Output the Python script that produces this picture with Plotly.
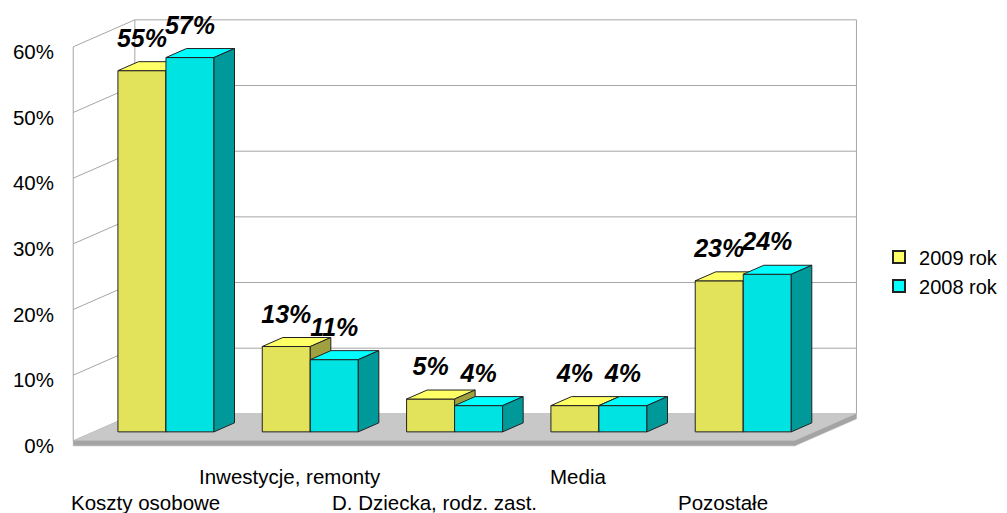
import plotly.graph_objects as go

# ---- data ----
categories = ["Koszty osobowe", "Inwestycje, remonty", "D. Dziecka, rodz. zast.", "Media", "Pozostałe"]
series_names = ["2009 rok", "2008 rok"]
values_2009 = [55, 13, 5, 4, 23]
values_2008 = [57, 11, 4, 4, 24]
y_ticks = [0, 10, 20, 30, 40, 50, 60]

# ---- style / geometry constants ----
FONT = "Liberation Sans, Arial, sans-serif"
DX = 0.427      # full depth, x (category units)
DY = 4.11       # full depth, y (percent units)
THICK = 0.76    # floor thickness
BAR_W = 0.3327
GROUP_OFF = 0.1675
D0, D1 = 1 / 3, 2 / 3  # bar depth range (fraction)
YMAX = 60
GRID = "#a6a6a6"

colors = {
    "2009 rok": dict(front="#E3E35B", top="#FFFF66", side="#A0A040", legend="#FFFF66"),
    "2008 rok": dict(front="#00E3E3", top="#00FFFF", side="#009999", legend="#00FFFF"),
}

fig = go.Figure()


def poly_trace(polys, fill, line_color, lw=1):
    xs, ys = [], []
    for p in polys:
        for (a, b) in p + [p[0]]:
            xs.append(a)
            ys.append(b)
        xs.append(None)
        ys.append(None)
    fig.add_trace(go.Scatter(x=xs, y=ys, mode="lines", fill="toself", fillcolor=fill,
                             line=dict(color=line_color, width=lw), hoverinfo="skip",
                             showlegend=False))


def line_trace(segs, color, lw=1):
    xs, ys = [], []
    for s in segs:
        for (a, b) in s:
            xs.append(a)
            ys.append(b)
        xs.append(None)
        ys.append(None)
    fig.add_trace(go.Scatter(x=xs, y=ys, mode="lines", line=dict(color=color, width=lw),
                             hoverinfo="skip", showlegend=False))


n = len(categories)

# ---- walls & gridlines ----
segs = []
for t in y_ticks:
    segs.append([(0, t), (DX, t + DY), (n + DX, t + DY)])
segs.append([(0, 0), (0, YMAX)])
segs.append([(DX, DY), (DX, YMAX + DY)])
segs.append([(n + DX, DY), (n + DX, YMAX + DY)])
line_trace(segs, GRID)

# ---- floor ----
poly_trace([[(0, 0), (n, 0), (n + DX, DY), (DX, DY)]], "#C8C8C8", "#C8C8C8", 0.5)
poly_trace([[(0, 0), (n, 0), (n, -THICK), (0, -THICK)],
            [(n, 0), (n + DX, DY), (n + DX, DY - THICK), (n, -THICK)]], "#A4A4A4", "#A4A4A4", 0.5)

# ---- bars ----
label_x, label_y, label_t = [], [], []
for si, (name, vals) in enumerate(zip(series_names, [values_2009, values_2008])):
    fronts, tops, sides = [], [], []
    for i, v in enumerate(vals):
        x0 = i + GROUP_OFF + si * BAR_W + D0 * DX
        x1 = x0 + BAR_W
        yb = D0 * DY
        yt = v + D0 * DY
        ddx = (D1 - D0) * DX
        ddy = (D1 - D0) * DY
        fronts.append([(x0, yb), (x1, yb), (x1, yt), (x0, yt)])
        tops.append([(x0, yt), (x1, yt), (x1 + ddx, yt + ddy), (x0 + ddx, yt + ddy)])
        sides.append([(x1, yb), (x1 + ddx, yb + ddy), (x1 + ddx, yt + ddy), (x1, yt)])
        label_x.append((x0 + x1) / 2)
        label_y.append(yt + 4.6)
        label_t.append(f"{v:.0f}%")
    c = colors[name]
    poly_trace(fronts, c["front"], "#222222")
    poly_trace(tops, c["top"], "#222222")
    poly_trace(sides, c["side"], "#222222")

# ---- data labels ----
fig.add_trace(go.Scatter(x=label_x, y=label_y, text=label_t, mode="text",
                         textposition="middle center",
                         textfont=dict(family=FONT, size=25, color="black",
                                       weight="bold", style="italic"),
                         hoverinfo="skip", showlegend=False, cliponaxis=False))

# ---- legend entries ----
for name in series_names:
    fig.add_trace(go.Scatter(x=[None], y=[None], mode="markers", name=name,
                             marker=dict(symbol="square", size=16, color=colors[name]["legend"],
                                         line=dict(color="#222222", width=1))))

# ---- category labels (staggered) ----
# (page body adds an 8px offset, so the figure is 8px smaller than the window)
W, H = 999, 505
ML, MR, MT, MB = 58, 140, 6, 59
for i, cat in enumerate(categories):
    fig.add_annotation(x=i + 0.5, y=-0.05 if i % 2 == 1 else -0.11, xref="x", yref="paper",
                       text=cat, showarrow=False, xanchor="center", yanchor="middle",
                       font=dict(family=FONT, size=20.5, color="black"))

fig.update_layout(
    width=W, height=H,
    margin=dict(l=ML, r=MR, t=MT, b=MB, autoexpand=False),
    paper_bgcolor="white", plot_bgcolor="white",
    showlegend=True,
    legend=dict(x=1.015, y=0.415, xanchor="left", yanchor="middle",
                font=dict(family=FONT, size=20, color="black"),
                bgcolor="rgba(0,0,0,0)", itemsizing="constant"),
    xaxis=dict(range=[-0.05, 5.5], showgrid=False, zeroline=False, showticklabels=False,
               showline=False, fixedrange=True, automargin=False),
    yaxis=dict(range=[-2, 65], showgrid=False, zeroline=False, showline=False,
               tickvals=y_ticks, ticktext=[f"{t}%" for t in y_ticks],
               tickfont=dict(family=FONT, size=20.5, color="black"),
               ticklabelstandoff=11, ticklabelshift=5, fixedrange=True, automargin=False),
)

fig.write_html("out.html")
